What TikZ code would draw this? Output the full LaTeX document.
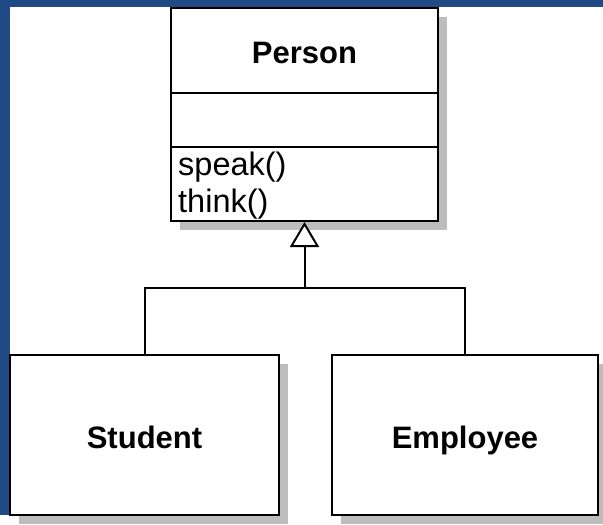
\documentclass[tikz,border=0pt]{standalone}
\usepackage{fontspec}
\setmainfont{Liberation Sans}
\usetikzlibrary{arrows.meta,shadows}
\definecolor{slideblue}{HTML}{1F4A86}
\definecolor{shadowgray}{HTML}{BDBDBD}
\begin{document}
\begin{tikzpicture}[x=1pt,y=-1pt,
  classbox/.style={draw=black, line width=2pt, fill=white, rectangle, inner sep=0pt,
    drop shadow={shadow xshift=9pt, shadow yshift=-9pt, fill=shadowgray, opacity=1}},
  classname/.style={font=\fontsize{31}{31}\selectfont\bfseries, inner sep=0pt},
  member/.style={font=\fontsize{32.5}{32.5}\selectfont, inner sep=0pt, anchor=base west},
  link/.style={draw=black, line width=2pt},
  inherit/.style={link, -{Triangle[open, length=25pt, width=29pt, fill=white]}}]
  % page background with the blue frame edges
  \useasboundingbox (0,0) rectangle (603,525);
  \clip (0,0) rectangle (603,525);
  \fill[white] (0,0) rectangle (603,525);
  \fill[slideblue] (0,0) rectangle (603,7);
  \fill[slideblue] (0,0) rectangle (10,515);

  % classes
  \node[classbox, minimum width=267pt, minimum height=213pt] (person) at (304.5,114.5) {};
  \draw[link] (171,93) -- (438,93);
  \draw[link] (171,147) -- (438,147);
  \node[classname, anchor=base] (personname) at (304.5,63) {Person};
  \node[member] (speak) at (178,175) {speak()};
  \node[member] (think) at (178,212) {think()};

  \node[classbox, minimum width=269pt, minimum height=160pt] (student) at (144.5,435) {};
  \node[classname, anchor=base] (studentname) at (144.5,448) {Student};

  \node[classbox, minimum width=266pt, minimum height=160pt] (employee) at (465,435) {};
  \node[classname, anchor=base] (employeename) at (465,448) {Employee};

  % generalization tree
  \coordinate (join) at (304.5,288);
  \draw[link] (student.north) |- (join);
  \draw[link] (employee.north) |- (join);
  \draw[inherit] (join) -- (person.south);
\end{tikzpicture}
\end{document}
